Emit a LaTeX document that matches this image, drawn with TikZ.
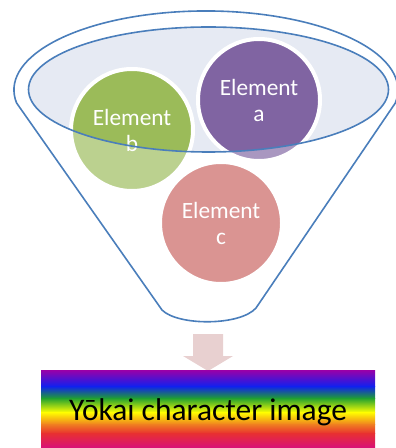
\documentclass[tikz,border=0pt]{standalone}
\usepackage{fontspec}
\setmainfont{Carlito}
\definecolor{funnelblue}{HTML}{4A7EBB}
\definecolor{mouthfill}{HTML}{E6EAF3}
\definecolor{purpA}{HTML}{8064A2}
\definecolor{greenB}{HTML}{9BBB59}
\definecolor{redC}{HTML}{C8605D}
\definecolor{arrowpink}{HTML}{E8D0D0}
\definecolor{rbPurple}{HTML}{9A00A8}
\definecolor{rbBlue}{HTML}{1020F0}
\definecolor{rbGreen}{HTML}{20A030}
\definecolor{rbYellow}{HTML}{FFFF00}
\definecolor{rbOrange}{HTML}{F08020}
\definecolor{rbRed}{HTML}{E83030}
\definecolor{rbMagenta}{HTML}{D8107A}
\begin{document}
\begin{tikzpicture}[x=0.75pt,y=-0.75pt,
  funnelline/.style={draw=funnelblue, line width=1.2pt},
  ball/.style={circle, minimum size=91.5pt, inner sep=0pt, draw=white,
    line width=3pt, text=white, align=center,
    font=\fontsize{17.5}{19.5}\selectfont},
]
\useasboundingbox (0,0) rectangle (395,448);

% mouth of the funnel
\fill[mouthfill] (208.5,89.5) ellipse [x radius=180, y radius=62.5];

% the three elements
\node[ball, fill=purpA]  (ea) at (259,100) {Element\\a};
\node[ball, fill=greenB] (eb) at (132,130) {Element\\b};
\node[ball, fill=redC]   (ec) at (221,223) {Element\\c};

% translucent funnel body in front of the elements
\fill[white, fill opacity=0.33, even odd rule]
  (16.6,103) arc [start angle=170.5, end angle=369.5, x radius=192, y radius=79]
  -- (256,308) .. controls (240,326) and (178,326) .. (162,310) -- cycle
  (208.5,89.5) ellipse [x radius=180, y radius=62.5];

% funnel outlines
\draw[funnelline]
  (16.6,103) arc [start angle=170.5, end angle=369.5, x radius=192, y radius=79]
  -- (256,308) .. controls (240,326) and (178,326) .. (162,310) -- cycle;
\draw[funnelline] (208.5,89.5) ellipse [x radius=180, y radius=62.5];

% down arrow
\fill[arrowpink] (193,334) -- (223,334) -- (223,356) -- (233,356) -- (208,371)
  -- (183,356) -- (193,356) -- cycle;

% rainbow result bar
\shade[top color=rbPurple, bottom color=rbBlue]   (41,370) rectangle (375,386.5);
\shade[top color=rbBlue, bottom color=rbGreen]    (41,386) rectangle (375,398.5);
\shade[top color=rbGreen, bottom color=rbYellow]  (41,398) rectangle (375,412.5);
\shade[top color=rbYellow, bottom color=rbOrange] (41,412) rectangle (375,424.5);
\shade[top color=rbOrange, bottom color=rbRed]    (41,424) rectangle (375,433.5);
\shade[top color=rbRed, bottom color=rbMagenta]   (41,433) rectangle (375,448);
\node[font=\fontsize{23.6}{27}\selectfont, text=black, inner sep=0pt] (bar) at (208,412) {Yōkai character image};
\end{tikzpicture}
\end{document}
